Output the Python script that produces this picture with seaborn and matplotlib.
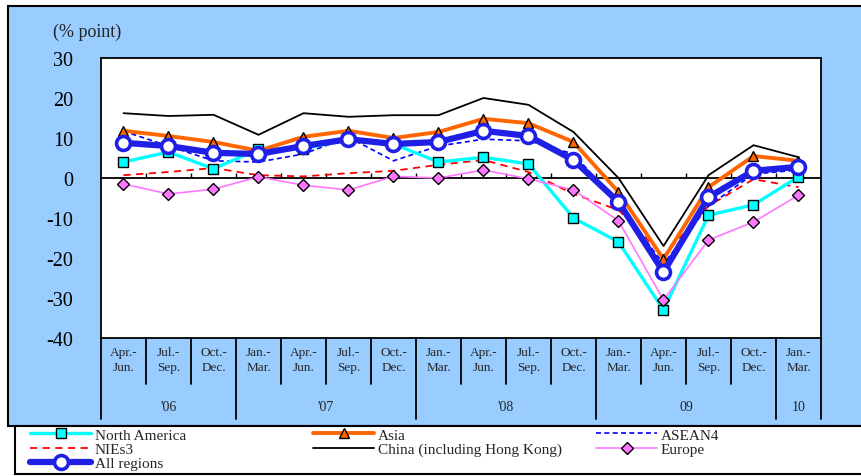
import numpy as np
import matplotlib
matplotlib.use("Agg")
import matplotlib.pyplot as plt
import matplotlib.transforms as mtransforms
from matplotlib.patches import Rectangle
from matplotlib.lines import Line2D
import seaborn as sns

# Quarter labels and year groups
quarters = ["Apr.-\nJun.", "Jul.-\nSep.", "Oct.-\nDec.",
            "Jan.-\nMar.", "Apr.-\nJun.", "Jul.-\nSep.", "Oct.-\nDec.",
            "Jan.-\nMar.", "Apr.-\nJun.", "Jul.-\nSep.", "Oct.-\nDec.",
            "Jan.-\nMar.", "Apr.-\nJun.", "Jul.-\nSep.", "Oct.-\nDec.",
            "Jan.-\nMar."]
years = ["'06", "'07", "'08", "09", "10"]
year_quarters = [3, 4, 4, 4, 1]

# Series values (% point)
north_america = [4.0, 6.5, 2.3, 7.2, 7.3, 9.7, 8.5, 4.0, 5.2, 3.5, -10.0, -16.0, -33.0, -9.3, -6.7, 0.3]
asia = [11.8, 10.5, 9.0, 6.8, 10.3, 11.8, 10.0, 11.5, 14.8, 13.7, 9.0, -3.5, -20.3, -2.3, 5.5, 4.3]
asean4 = [11.7, 8.0, 4.3, 4.0, 6.0, 10.2, 4.3, 8.0, 9.7, 9.3, 6.0, -6.5, -21.5, -7.0, 1.0, 2.0]
nies3 = [0.7, 1.5, 2.5, 0.7, 0.4, 1.2, 1.8, 3.3, 4.5, 1.5, -4.0, -8.0, -19.5, -7.0, -0.3, -2.3]
china = [16.2, 15.5, 15.8, 10.8, 16.2, 15.3, 15.7, 15.7, 20.0, 18.3, 11.5, 0.0, -17.0, 0.7, 8.2, 5.2]
europe = [-1.5, -4.0, -2.8, 0.3, -1.8, -3.0, 0.4, 0.0, 2.0, -0.2, -3.0, -10.7, -30.5, -15.5, -11.0, -4.3]
all_regions = [8.8, 8.0, 6.3, 6.0, 8.0, 9.7, 8.5, 9.0, 11.8, 10.5, 4.5, -6.0, -23.5, -4.8, 1.8, 2.8]

sns.set_style("white")
plt.rcParams["font.family"] = ["Liberation Serif", "DejaVu Serif"]
plt.rcParams["axes.unicode_minus"] = False

W, H = 862, 477
fig = plt.figure(figsize=(W / 100, H / 100), dpi=100)
fig.patch.set_facecolor("white")

# Light blue panel and the legend box below it
fig.patches.append(Rectangle((8 / W, 1 - 427 / H), 1.0, 420 / H, transform=fig.transFigure,
                             facecolor="#99CCFF", edgecolor="black", lw=1.5, zorder=-2))
fig.patches.append(Rectangle((15 / W, 1 - 475 / H), 1.0, 48 / H, transform=fig.transFigure,
                             facecolor="white", edgecolor="black", lw=1.5, zorder=-2))

ax = fig.add_axes([101 / W, 1 - 339 / H, 720 / W, 280 / H])
ax.set_facecolor("white")

x = np.arange(len(quarters))

sns.lineplot(x=x, y=china, ax=ax, color="black", lw=1.3, label="China (including Hong Kong)",
             legend=False, zorder=3)
sns.lineplot(x=x, y=nies3, ax=ax, color="#FF0000", lw=1.3, linestyle=(0, (4, 3)), label="NIEs3",
             legend=False, zorder=3)
sns.lineplot(x=x, y=asean4, ax=ax, color="#0000FF", lw=1.2, linestyle=(0, (3, 2)), label="ASEAN4",
             legend=False, zorder=3)
sns.lineplot(x=x, y=north_america, ax=ax, color="#00FFFF", lw=2.4, marker="s", markersize=7,
             markerfacecolor="#00FFFF", markeredgecolor="black", markeredgewidth=1,
             label="North America", legend=False, zorder=4)
sns.lineplot(x=x, y=europe, ax=ax, color="#FF77FF", lw=1.2, marker="D", markersize=6.5,
             markerfacecolor="#FF77FF", markeredgecolor="black", markeredgewidth=1,
             label="Europe", legend=False, zorder=4)
sns.lineplot(x=x, y=asia, ax=ax, color="#FF6600", lw=2.8, marker="^", markersize=7.5,
             markerfacecolor="#FF6600", markeredgecolor="black", markeredgewidth=1,
             label="Asia", legend=False, zorder=5)
sns.lineplot(x=x, y=all_regions, ax=ax, color="#1F1FE6", lw=4.5, marker="o", markersize=10,
             markerfacecolor="white", markeredgecolor="#1F1FE6", markeredgewidth=2.6,
             label="All regions", legend=False, zorder=6)

ax.set_xlim(-0.5, len(quarters) - 0.5)
ax.set_ylim(-40, 30)
ax.set_yticks(range(-40, 31, 10))
ax.tick_params(axis="y", direction="in", length=5, width=1, pad=20, labelsize=14.5, colors="black")
ax.set_xticks(x)
ax.set_xticklabels(quarters, fontsize=9.5, linespacing=1.3)
ax.tick_params(axis="x", length=0, pad=6)
ax.set_xlabel("")
ax.set_ylabel("")
for s in ax.spines.values():
    s.set_color("black")
    s.set_linewidth(1.3)

# zero line with small ticks between quarters
ax.axhline(0, color="black", lw=1.3, zorder=2)
ax.vlines(np.arange(0.5, len(quarters) - 1), 0, 1.3, color="black", lw=1, zorder=2)

# separators and year labels below the axis
trans = mtransforms.blended_transform_factory(ax.transData, ax.transAxes)
bounds = np.cumsum([0] + year_quarters) - 0.5
for b in np.arange(-0.5, len(quarters)):
    depth = -0.290 if np.isclose(bounds, b).any() else -0.163
    ax.add_line(Line2D([b, b], [0, depth], transform=trans, color="black", lw=1.3, clip_on=False))
for i, yr in enumerate(years):
    ax.text((bounds[i] + bounds[i + 1]) / 2, -0.245, yr, transform=trans, ha="center", va="center",
            fontsize=10)

fig.text(53 / W, 1 - 32 / H, "(% point)", ha="left", va="center", fontsize=13)

# legend, three columns laid out as in the original
handles, labels = ax.get_legend_handles_labels()
hmap = dict(zip(labels, handles))
columns = [(["North America", "NIEs3", "All regions"], 30),
           (["Asia", "China (including Hong Kong)"], 313),
           (["ASEAN4", "Europe"], 596)]
for names, xpos in columns:
    fig.legend([hmap[n] for n in names], names, loc="upper left",
               bbox_to_anchor=(xpos / W, 1 - 429 / H), frameon=False, fontsize=11,
               handlelength=4.0, handletextpad=0.25, labelspacing=0.04, borderpad=0,
               borderaxespad=0)

plt.savefig("out.png", dpi=100)
